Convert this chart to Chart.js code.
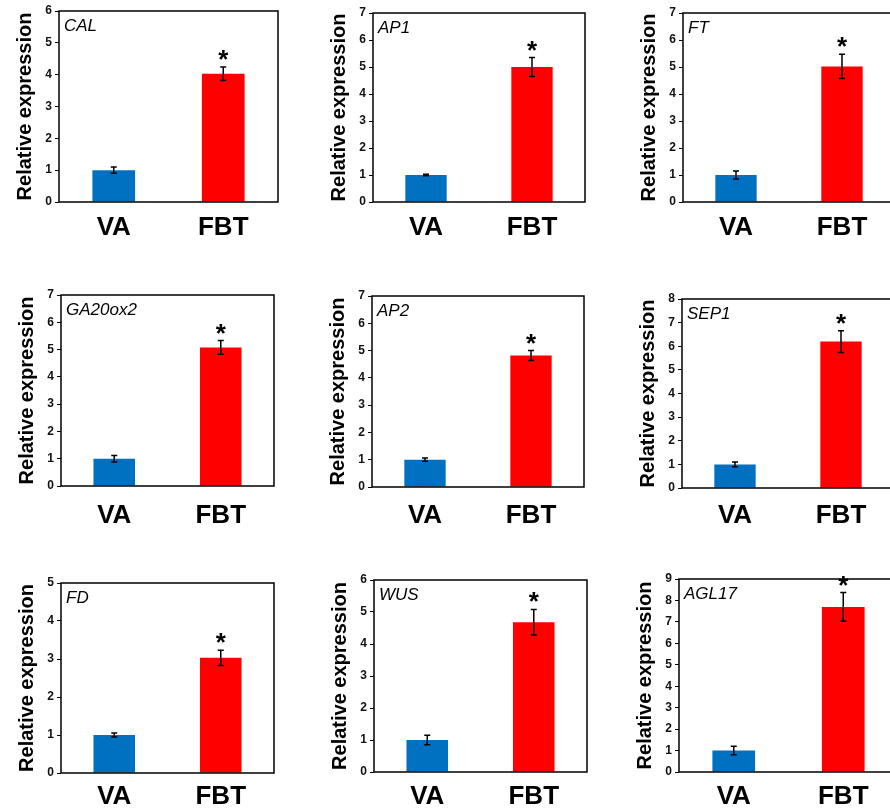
<!DOCTYPE html>
<html lang="en">
<head>
<meta charset="UTF-8">
<title>Relative expression, VA vs FBT</title>
<style>
    html, body { margin: 0; padding: 0; background: #fff; }
    body { width: 890px; height: 812px; position: relative; overflow: hidden; }
    canvas { position: absolute; }
</style>
</head>
<body>
<script src="https://cdn.jsdelivr.net/npm/chart.js"></script>
<script>
    const categories = ['VA', 'FBT'];
    const genes = ['CAL', 'AP1', 'FT', 'GA20ox2', 'AP2', 'SEP1', 'FD', 'WUS', 'AGL17'];
    const vaMeans = [1, 1, 1, 1, 1, 1, 1, 1, 1];
    const vaErr = [0.10, 0.03, 0.15, 0.12, 0.06, 0.10, 0.05, 0.15, 0.20];
    const fbtMeans = [4.03, 5.0, 5.02, 5.08, 4.82, 6.2, 3.03, 4.68, 7.7];
    const fbtErr = [0.21, 0.35, 0.45, 0.25, 0.18, 0.46, 0.20, 0.40, 0.67];
    const yMax = [6, 7, 7, 7, 7, 8, 5, 6, 9];
    const significant = [true, true, true, true, true, true, true, true, true];

    // plot frame of each panel on the page: left, top, right, bottom, gap under axis for VA/FBT
    const frames = [
        [59, 11, 278, 202, 15], [373, 13, 585, 202, 15], [683, 13, 895, 202, 15],
        [61, 295, 274, 486, 19], [372, 296, 584, 487, 18], [682, 299, 894, 488, 17],
        [61, 583, 274, 773, 13], [374, 580, 587, 772, 14], [679, 579, 898, 772, 14]
    ];

    const FONT = "'Liberation Sans', Arial, sans-serif";
    const Y_W = 58, X_H = 50, PAD_T = 12, PAD_R = 8;

    genes.forEach((gene, i) => {
        const [l, t, r, b, gap] = frames[i];
        const canvas = document.createElement('canvas');
        canvas.width = (r - l) + Y_W + PAD_R;
        canvas.height = (b - t) + PAD_T + X_H;
        canvas.style.left = (l - Y_W) + 'px';
        canvas.style.top = (t - PAD_T) + 'px';
        document.body.appendChild(canvas);

        const means = [vaMeans[i], fbtMeans[i]];
        const errs = [vaErr[i], fbtErr[i]];

        const extras = {
            id: 'extras' + i,
            afterDatasetsDraw(chart) {
                const ctx = chart.ctx;
                const ys = chart.scales.y;
                const bars = chart.getDatasetMeta(0).data;
                ctx.save();
                // error bars
                ctx.strokeStyle = '#000';
                ctx.lineWidth = 1.5;
                bars.forEach((bar, j) => {
                    const yTop = ys.getPixelForValue(means[j] + errs[j]);
                    const yBot = ys.getPixelForValue(means[j] - errs[j]);
                    ctx.beginPath();
                    ctx.moveTo(bar.x, yTop); ctx.lineTo(bar.x, yBot);
                    ctx.moveTo(bar.x - 3, yTop); ctx.lineTo(bar.x + 3, yTop);
                    ctx.moveTo(bar.x - 3, yBot); ctx.lineTo(bar.x + 3, yBot);
                    ctx.stroke();
                });
                // significance star
                if (significant[i]) {
                    const bar = bars[1];
                    const yTop = ys.getPixelForValue(means[1] + errs[1]);
                    ctx.fillStyle = '#000';
                    ctx.font = 'bold 26px ' + FONT;
                    ctx.textAlign = 'center';
                    ctx.textBaseline = 'alphabetic';
                    ctx.fillText('*', bar.x, yTop + 1);
                }
                // frame
                const a = chart.chartArea;
                ctx.lineWidth = 1.5;
                ctx.strokeRect(a.left, a.top, a.right - a.left, a.bottom - a.top);
                // gene name
                ctx.font = 'italic 17px ' + FONT;
                ctx.textAlign = 'left';
                ctx.fillStyle = '#000';
                ctx.fillText(gene, a.left + 5, a.top + 20);
                ctx.restore();
            }
        };

        new Chart(canvas.getContext('2d'), {
            type: 'bar',
            data: {
                labels: categories,
                datasets: [{
                    data: means,
                    backgroundColor: ['#0070C0', '#FF0000'],
                    borderWidth: 0,
                    categoryPercentage: 1,
                    barPercentage: 0.39
                }]
            },
            options: {
                responsive: false,
                animation: false,
                devicePixelRatio: 1,
                layout: { padding: { top: PAD_T, right: PAD_R, left: 0, bottom: 0 } },
                plugins: { legend: { display: false }, tooltip: { enabled: false } },
                scales: {
                    x: {
                        grid: { display: false, drawTicks: false },
                        border: { display: false },
                        ticks: {
                            color: '#000',
                            font: { family: FONT, size: 26, weight: 'bold' },
                            padding: gap - 5,
                            maxRotation: 0,
                            autoSkip: false
                        },
                        afterFit: (s) => { s.height = X_H; }
                    },
                    y: {
                        min: 0,
                        max: yMax[i],
                        grid: { drawOnChartArea: false, drawTicks: true, tickLength: 4, color: '#000', lineWidth: 1 },
                        border: { display: false },
                        ticks: {
                            stepSize: 1,
                            color: '#111',
                            padding: 3,
                            font: { family: FONT, size: 12, weight: 'bold' }
                        },
                        title: {
                            display: true,
                            text: 'Relative expression',
                            color: '#000',
                            font: { family: FONT, size: 20, weight: 'bold' },
                            padding: { top: 12, bottom: 0 }
                        },
                        afterFit: (s) => { s.width = Y_W; }
                    }
                }
            },
            plugins: [extras]
        });
    });
</script>
</body>
</html>
